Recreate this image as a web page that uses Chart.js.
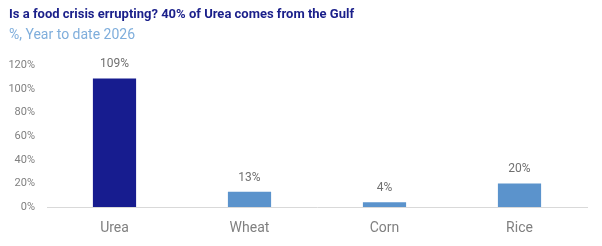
<!DOCTYPE html>
<html>
<head>
<meta charset="utf-8">
<script src="https://cdn.jsdelivr.net/npm/chart.js@4"></script>
<style>
  html, body { margin: 0; padding: 0; background: #fff; }
  #wrap { width: 602px; height: 246px; }
</style>
</head>
<body>
<div id="wrap"><canvas id="myChart"></canvas></div>
<script>
// Datos del gráfico
const categorias = ["Urea", "Wheat", "Corn", "Rice"];
const valores = [109, 13, 4, 20];
const etiquetasY = ["0%", "20%", "40%", "60%", "80%", "100%", "120%"];

// Plugin sencillo para las etiquetas encima de las barras
const etiquetasBarras = {
    id: "etiquetasBarras",
    afterDatasetsDraw(chart) {
        const ctx = chart.ctx;
        const meta = chart.getDatasetMeta(0);
        ctx.save();
        ctx.font = "12px Roboto";
        ctx.fillStyle = "#707070";
        ctx.textAlign = "center";
        ctx.textBaseline = "bottom";
        meta.data.forEach((bar, i) => {
            ctx.fillText(valores[i] + "%", bar.x, bar.y - 8);
        });
        ctx.restore();
    },
};

const ctx = document.getElementById("myChart").getContext("2d");
let myChart = new Chart(ctx, {
    type: "bar",
    data: {
        labels: categorias,
        datasets: [
            {
                data: valores,
                backgroundColor: ["#171c8f", "#5b93cc", "#5b93cc", "#5b93cc"],
                barPercentage: 0.64,
                categoryPercentage: 0.5,
            },
        ],
    },
    options: {
        responsive: true,
        maintainAspectRatio: false,
        animation: false,
        layout: {
            padding: { left: 9, right: 15, top: 0, bottom: 0 },
        },
        plugins: {
            legend: { display: false },
            tooltip: { enabled: false },
            title: {
                display: true,
                text: "Is a food crisis errupting? 40% of Urea comes from the Gulf",
                align: "start",
                color: "#1a1f8a",
                font: { family: "Roboto", size: 13, weight: "bold" },
                padding: { top: 7, bottom: 4 },
            },
            subtitle: {
                display: true,
                text: "%, Year to date 2026",
                align: "start",
                color: "#7faedc",
                font: { family: "Roboto", size: 14 },
                padding: { bottom: 22 },
            },
        },
        scales: {
            x: {
                grid: { display: false, drawTicks: false },
                border: { color: "#d9d9d9", width: 1 },
                afterFit: (scale) => { scale.height = 39; },
                ticks: {
                    color: "#808080",
                    font: { family: "Roboto", size: 14 },
                    padding: 13,
                },
            },
            y: {
                min: 0,
                max: 120,
                grid: { display: false, drawTicks: false },
                border: { display: false },
                afterFit: (scale) => { scale.width = 38; },
                ticks: {
                    stepSize: 20,
                    color: "#808080",
                    font: { family: "Roboto", size: 11 },
                    padding: 12,
                    callback: (v) => etiquetasY[v / 20],
                },
            },
        },
    },
    plugins: [etiquetasBarras],
});
</script>
</body>
</html>
